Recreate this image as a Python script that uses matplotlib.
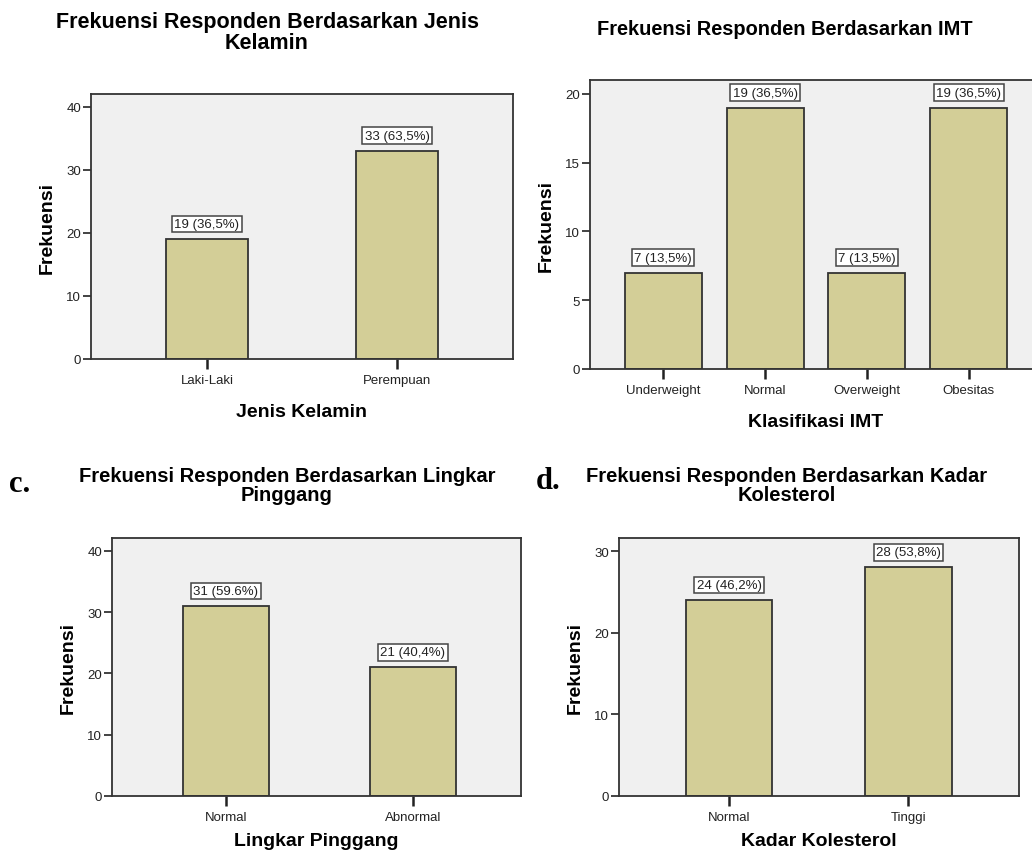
import matplotlib.pyplot as plt

plt.rcParams['font.family'] = ['Liberation Sans', 'DejaVu Sans']

# data
jk_kat = ['Laki-Laki', 'Perempuan']
jk_n = [19, 33]
jk_lbl = ['19 (36,5%)', '33 (63,5%)']

imt_kat = ['Underweight', 'Normal', 'Overweight', 'Obesitas']
imt_n = [7, 19, 7, 19]
imt_lbl = ['7 (13,5%)', '19 (36,5%)', '7 (13,5%)', '19 (36,5%)']

lp_kat = ['Normal', 'Abnormal']
lp_n = [31, 21]
lp_lbl = ['31 (59.6%)', '21 (40,4%)']

kol_kat = ['Normal', 'Tinggi']
kol_n = [24, 28]
kol_lbl = ['24 (46,2%)', '28 (53,8%)']

W, H = 1032, 854
fig = plt.figure(figsize=(W / 100, H / 100), dpi=100)
fig.patch.set_facecolor('white')

bar_col = '#d3ce97'
edge = '#333333'


def box(l, t, r, b):
    # pixel box -> figure fraction
    return [l / W, 1 - b / H, (r - l) / W, (b - t) / H]


def panel(rect, kat, n, lbl, ymax, yticks, xlim, width, xlabel, xpad):
    ax = fig.add_axes(box(*rect))
    ax.set_facecolor('#f0f0f0')
    x = range(len(kat))
    ax.bar(x, n, width=width, color=bar_col, edgecolor=edge, linewidth=1.3, zorder=2)
    for i in x:
        ax.annotate(lbl[i], (i, n[i]), xytext=(0, 9), textcoords='offset pixels',
                    ha='center', va='bottom', fontsize=9.5, color='#222222',
                    bbox=dict(boxstyle='square,pad=0.18', fc='white', ec='#444444', lw=1.1),
                    zorder=3)
    ax.set_xlim(*xlim)
    ax.set_ylim(0, ymax)
    ax.set_yticks(yticks)
    ax.set_xticks(list(x))
    ax.set_xticklabels(kat)
    for s in ax.spines.values():
        s.set_color(edge)
        s.set_linewidth(1.3)
    ax.tick_params(axis='y', direction='out', length=6, width=1.2, pad=1,
                   labelsize=9.5, colors='#222222')
    ax.tick_params(axis='x', direction='out', length=7, width=1.8, pad=4,
                   labelsize=9.5, colors='#222222')
    ax.set_xlabel(xlabel, fontsize=14, fontweight='bold', labelpad=xpad)
    ax.set_ylabel('Frekuensi', fontsize=14, fontweight='bold', labelpad=8)
    return ax


panel((91, 95, 513, 360), jk_kat, jk_n, jk_lbl, 42, [0, 10, 20, 30, 40],
      (-0.61, 1.61), 0.43, 'Jenis Kelamin', 12)
panel((590, 81, 1042, 370), imt_kat, imt_n, imt_lbl, 21, [0, 5, 10, 15, 20],
      (-0.72, 3.72), 0.757, 'Klasifikasi IMT', 12)
panel((112, 539, 521, 797), lp_kat, lp_n, lp_lbl, 42.1, [0, 10, 20, 30, 40],
      (-0.61, 1.58), 0.46, 'Lingkar Pinggang', 6)
panel((619, 539, 1019, 797), kol_kat, kol_n, kol_lbl, 31.6, [0, 10, 20, 30],
      (-0.613, 1.616), 0.48, 'Kadar Kolesterol', 6)

tt = dict(ha='center', va='top', fontweight='bold', linespacing=1.0)
fig.text(267 / W, 1 - 12 / H, 'Frekuensi Responden Berdasarkan Jenis\nKelamin',
         fontsize=15.5, **tt)
fig.text(785 / W, 1 - 20 / H, 'Frekuensi Responden Berdasarkan IMT', fontsize=14.4, **tt)
fig.text(287 / W, 1 - 467 / H, 'Frekuensi Responden Berdasarkan Lingkar\nPinggang',
         fontsize=14.5, **tt)
fig.text(787 / W, 1 - 467 / H, 'Frekuensi Responden Berdasarkan Kadar\nKolesterol',
         fontsize=14.5, **tt)

fig.text(9 / W, 1 - 485 / H, 'c.', ha='left', va='center', fontsize=22,
         fontweight='bold', family='Liberation Serif')
fig.text(536 / W, 1 - 482 / H, 'd.', ha='left', va='center', fontsize=22,
         fontweight='bold', family='Liberation Serif')

plt.savefig('out.png', dpi=100)
